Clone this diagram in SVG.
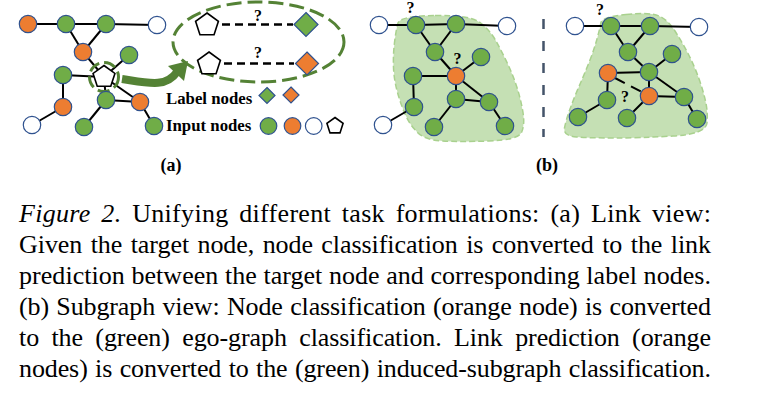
<svg xmlns="http://www.w3.org/2000/svg" width="767" height="403" viewBox="0 0 767 403">
<style>
.n{stroke:#2f528f;stroke-width:1.2}
.g{fill:#70ad47}
.o{fill:#ed7d31}
.w{fill:#ffffff}
.e{stroke:#000;stroke-width:2;fill:none}
.pent{fill:#fff;stroke:#000;stroke-width:1.6;stroke-linejoin:miter}
.lbl{font-family:"Liberation Serif","Times New Roman",serif;font-weight:bold;fill:#000}
.cap{font-family:"Liberation Serif","Times New Roman",serif;font-size:26px;fill:#000}
.blob{fill:#c5e0b4;stroke:#a9d18e;stroke-width:1.5;stroke-dasharray:6 3}
</style>
<rect width="767" height="403" fill="#fff"/>

<!-- blobs -->
<path id="blob-left" class="blob" d="M435,15.5 Q470,15 480,22.5 Q490,30 496,41 Q502,52 507.5,63.5 Q513,75 517,87.5 Q521,100 523,112.5 Q525,125 521.5,132.5 Q518,140 489,141 Q460,142 442.5,141 Q425,140 417.5,132.5 Q410,125 405.5,115 Q401,105 397.5,92.5 Q394,80 393.5,67.5 Q393,55 394.5,42.5 Q396,30 398,23 Q400,16 435,15.5 Z"/>
<path id="blob-right" class="blob" d="M626,14.5 Q650,12 659,16 Q668,20 675,31 Q682,42 688,53.5 Q694,65 698.5,77.5 Q703,90 705.5,101 Q708,112 707,123 Q706,134 673,136 Q640,138 615,138 Q590,138 576.5,137 Q563,136 564.5,128 Q566,120 570,109 Q574,98 579,86.5 Q584,75 589,62.5 Q594,50 597,39 Q600,28 601,22.5 Q602,17 626,14.5 Z"/>

<!-- divider -->
<line id="divider" x1="543.5" y1="19" x2="543.5" y2="137" stroke="#44546a" stroke-width="2.5" stroke-dasharray="10 12"/>

<g id="connectors">
  <!-- panel a -->
  <line class="e" x1="28" y1="24" x2="66" y2="24"/>
  <line class="e" x1="66" y1="24" x2="106" y2="24"/>
  <line class="e" x1="106" y1="24" x2="157" y2="25"/>
  <line class="e" x1="66" y1="24" x2="83" y2="52"/>
  <line class="e" x1="106" y1="24" x2="83" y2="52"/>
  <line class="e" x1="83" y1="52" x2="104" y2="77"/>
  <line class="e" x1="129" y1="55" x2="104" y2="77"/>
  <line class="e" x1="63" y1="75" x2="104" y2="77"/>
  <line class="e" x1="104" y1="77" x2="106" y2="100"/>
  <line class="e" x1="104" y1="77" x2="140" y2="102"/>
  <line class="e" x1="106" y1="100" x2="140" y2="102"/>
  <line class="e" x1="63" y1="75" x2="63" y2="107"/>
  <line class="e" x1="63" y1="107" x2="32" y2="125"/>
  <line class="e" x1="106" y1="100" x2="84" y2="127"/>
  <line class="e" x1="140" y1="102" x2="154" y2="126"/>
  <!-- ellipse links -->
  <line x1="222" y1="24.5" x2="293" y2="24.5" stroke="#000" stroke-width="2.5" stroke-dasharray="8 5"/>
  <line x1="224" y1="63.5" x2="294" y2="63.5" stroke="#000" stroke-width="2.5" stroke-dasharray="8 5"/>
  <!-- panel b left -->
  <line class="e" x1="379" y1="25" x2="416" y2="25"/>
  <line class="e" x1="416" y1="25" x2="456" y2="24"/>
  <line class="e" x1="456" y1="24" x2="507" y2="26"/>
  <line class="e" x1="416" y1="25" x2="435" y2="52"/>
  <line class="e" x1="456" y1="24" x2="435" y2="52"/>
  <line class="e" x1="435" y1="52" x2="456" y2="76"/>
  <line class="e" x1="413" y1="76" x2="456" y2="76"/>
  <line class="e" x1="481" y1="57" x2="456" y2="76"/>
  <line class="e" x1="456" y1="76" x2="456" y2="99"/>
  <line class="e" x1="456" y1="76" x2="489" y2="102"/>
  <line class="e" x1="456" y1="99" x2="489" y2="102"/>
  <line class="e" x1="413" y1="76" x2="414" y2="107"/>
  <line class="e" x1="414" y1="107" x2="383" y2="125"/>
  <line class="e" x1="456" y1="99" x2="434" y2="127"/>
  <line class="e" x1="489" y1="102" x2="505" y2="126"/>
  <!-- panel b right -->
  <line class="e" x1="575" y1="26" x2="611" y2="26"/>
  <line class="e" x1="611" y1="26" x2="650" y2="26"/>
  <line class="e" x1="650" y1="26" x2="699" y2="27"/>
  <line class="e" x1="611" y1="26" x2="628" y2="52"/>
  <line class="e" x1="650" y1="26" x2="628" y2="52"/>
  <line class="e" x1="628" y1="52" x2="649" y2="72"/>
  <line class="e" x1="672" y1="54" x2="649" y2="72"/>
  <line class="e" x1="608" y1="73" x2="649" y2="72"/>
  <line class="e" x1="649" y1="72" x2="649" y2="96"/>
  <line class="e" x1="649" y1="72" x2="684" y2="97"/>
  <line class="e" x1="649" y1="96" x2="684" y2="97"/>
  <line class="e" x1="608" y1="73" x2="607" y2="100"/>
  <line class="e" x1="607" y1="100" x2="578" y2="117"/>
  <line class="e" x1="649" y1="96" x2="627" y2="118"/>
  <line class="e" x1="684" y1="97" x2="697" y2="119"/>
  <line x1="615" y1="78" x2="642" y2="92" stroke="#000" stroke-width="2" stroke-dasharray="11 7"/>
</g>

<!-- panel a: dashed circle, arrow, ellipse -->
<circle id="focus-ring" cx="104" cy="77" r="14.5" fill="none" stroke="#548235" stroke-width="3" stroke-dasharray="12 5"/>
<g id="arrow">
  <path d="M122,79 C148,83 166,88 177,72" fill="none" stroke="#548235" stroke-width="8"/>
  <polygon points="188,61 168,66 184,81" fill="#548235"/>
</g>
<ellipse id="link-ellipse" cx="258.5" cy="42" rx="85.5" ry="40" fill="none" stroke="#548235" stroke-width="3" stroke-dasharray="15 6"/>

<!-- panel a nodes -->
<g id="a-o1"><circle class="n o" cx="28" cy="24" r="8.7"/></g>
<g id="a-g1"><circle class="n g" cx="66" cy="24" r="8.7"/></g>
<g id="a-g2"><circle class="n g" cx="106" cy="24" r="8.7"/></g>
<g id="a-w1"><circle class="n w" cx="157" cy="25" r="8.7"/></g>
<g id="a-o2"><circle class="n o" cx="83" cy="52" r="8.7"/></g>
<g id="a-g3"><circle class="n g" cx="129" cy="55" r="8.7"/></g>
<g id="a-g4"><circle class="n g" cx="63" cy="75" r="8.7"/></g>
<g id="a-target"><polygon class="pent" points="104,65.5 114.94,73.45 110.76,86.3 97.24,86.3 93.06,73.45"/></g>
<g id="a-o3"><circle class="n o" cx="63" cy="107" r="8.7"/></g>
<g id="a-g5"><circle class="n g" cx="106" cy="100" r="8.7"/></g>
<g id="a-o4"><circle class="n o" cx="140" cy="102" r="8.7"/></g>
<g id="a-w2"><circle class="n w" cx="32" cy="125" r="8.7"/></g>
<g id="a-g6"><circle class="n g" cx="84" cy="127" r="8.7"/></g>
<g id="a-g7"><circle class="n g" cx="154" cy="126" r="8.7"/></g>

<!-- ellipse content -->
<g id="e-pent1"><polygon class="pent" points="207,13 218.41,21.29 214.05,34.71 199.95,34.71 195.59,21.29"/></g>
<g id="e-pent2"><polygon class="pent" points="209,52 220.41,60.29 216.05,73.71 201.95,73.71 197.59,60.29"/></g>
<g id="e-diamond-green"><polygon class="n g" points="306,12.5 318,24.5 306,36.5 294,24.5"/></g>
<g id="e-diamond-orange"><polygon class="n o" points="307,52 318.5,63.5 307,75 295.5,63.5"/></g>
<text class="lbl" x="258" y="20.5" font-size="16" text-anchor="middle">?</text>
<text class="lbl" x="258" y="58" font-size="16" text-anchor="middle">?</text>

<!-- legend -->
<g id="legend">
  <text class="lbl" x="166" y="103.5" font-size="16.8">Label nodes</text>
  <polygon class="n g" points="267,87.5 275,95.5 267,103.5 259,95.5"/>
  <polygon class="n o" points="291,87 299,95 291,103 283,95"/>
  <text class="lbl" x="166" y="131" font-size="16.8">Input nodes</text>
  <circle class="n g" cx="268.5" cy="126" r="8.3"/>
  <circle class="n o" cx="292.5" cy="126" r="8.3"/>
  <circle class="n w" cx="313.7" cy="126" r="8.3"/>
  <polygon class="pent" points="335,117.5 343.08,123.37 340,132.88 330,132.88 326.92,123.37"/>
</g>

<!-- panel b left nodes -->
<g id="b-w1"><circle class="n w" cx="379" cy="25" r="8.7"/></g>
<g id="b-g1"><circle class="n g" cx="416" cy="25" r="8.7"/></g>
<g id="b-g2"><circle class="n g" cx="456" cy="24" r="8.7"/></g>
<g id="b-w2"><circle class="n w" cx="507" cy="26" r="8.7"/></g>
<g id="b-g3"><circle class="n g" cx="435" cy="52" r="8.7"/></g>
<g id="b-g4"><circle class="n g" cx="481" cy="57" r="8.7"/></g>
<g id="b-g5"><circle class="n g" cx="413" cy="76" r="8.7"/></g>
<g id="b-o1"><circle class="n o" cx="456" cy="76" r="8.7"/></g>
<g id="b-g6"><circle class="n g" cx="414" cy="107" r="8.7"/></g>
<g id="b-g7"><circle class="n g" cx="456" cy="99" r="8.7"/></g>
<g id="b-g8"><circle class="n g" cx="489" cy="102" r="8.7"/></g>
<g id="b-w3"><circle class="n w" cx="383" cy="125" r="8.7"/></g>
<g id="b-g9"><circle class="n g" cx="434" cy="127" r="8.7"/></g>
<g id="b-g10"><circle class="n g" cx="505" cy="126" r="8.7"/></g>
<text class="lbl" x="410.5" y="13" font-size="16" text-anchor="middle">?</text>
<text class="lbl" x="457.5" y="64" font-size="16" text-anchor="middle">?</text>

<!-- panel b right nodes -->
<g id="c-w1"><circle class="n w" cx="575" cy="26" r="8.7"/></g>
<g id="c-g1"><circle class="n g" cx="611" cy="26" r="8.7"/></g>
<g id="c-g2"><circle class="n g" cx="650" cy="26" r="8.7"/></g>
<g id="c-w2"><circle class="n w" cx="699" cy="27" r="8.7"/></g>
<g id="c-g3"><circle class="n g" cx="628" cy="52" r="8.7"/></g>
<g id="c-g4"><circle class="n g" cx="672" cy="54" r="8.7"/></g>
<g id="c-o1"><circle class="n o" cx="608" cy="73" r="8.7"/></g>
<g id="c-g5"><circle class="n g" cx="649" cy="72" r="8.7"/></g>
<g id="c-g6"><circle class="n g" cx="607" cy="100" r="8.7"/></g>
<g id="c-o2"><circle class="n o" cx="649" cy="96" r="8.7"/></g>
<g id="c-g7"><circle class="n g" cx="684" cy="97" r="8.7"/></g>
<g id="c-g8"><circle class="n g" cx="578" cy="117" r="8.7"/></g>
<g id="c-g9"><circle class="n g" cx="627" cy="118" r="8.7"/></g>
<g id="c-g10"><circle class="n g" cx="697" cy="119" r="8.7"/></g>
<text class="lbl" x="600" y="15" font-size="16" text-anchor="middle">?</text>
<text class="lbl" x="625" y="101.5" font-size="16" text-anchor="middle">?</text>

<!-- panel labels -->
<text class="lbl" x="171" y="171" font-size="18" text-anchor="middle">(a)</text>
<text class="lbl" x="547" y="171" font-size="18" text-anchor="middle">(b)</text>

<!-- caption -->
<g id="caption" class="cap">
  <text x="19" y="222" word-spacing="4" textLength="692" lengthAdjust="spacing"><tspan font-style="italic">Figure 2.</tspan> Unifying different task formulations:  (a) Link view:</text>
  <text x="19" y="253" word-spacing="2" textLength="692" lengthAdjust="spacing">Given the target node, node classification is converted to the link</text>
  <text x="19" y="284" textLength="692" lengthAdjust="spacing">prediction between the target node and corresponding label nodes.</text>
  <text x="19" y="315" word-spacing="1" textLength="692" lengthAdjust="spacing">(b) Subgraph view: Node classification (orange node) is converted</text>
  <text x="19" y="346" word-spacing="6" textLength="692" lengthAdjust="spacing">to the (green) ego-graph classification.  Link prediction (orange</text>
  <text x="19" y="377" word-spacing="1" textLength="692" lengthAdjust="spacing">nodes) is converted to the (green) induced-subgraph classification.</text>
</g>
</svg>
